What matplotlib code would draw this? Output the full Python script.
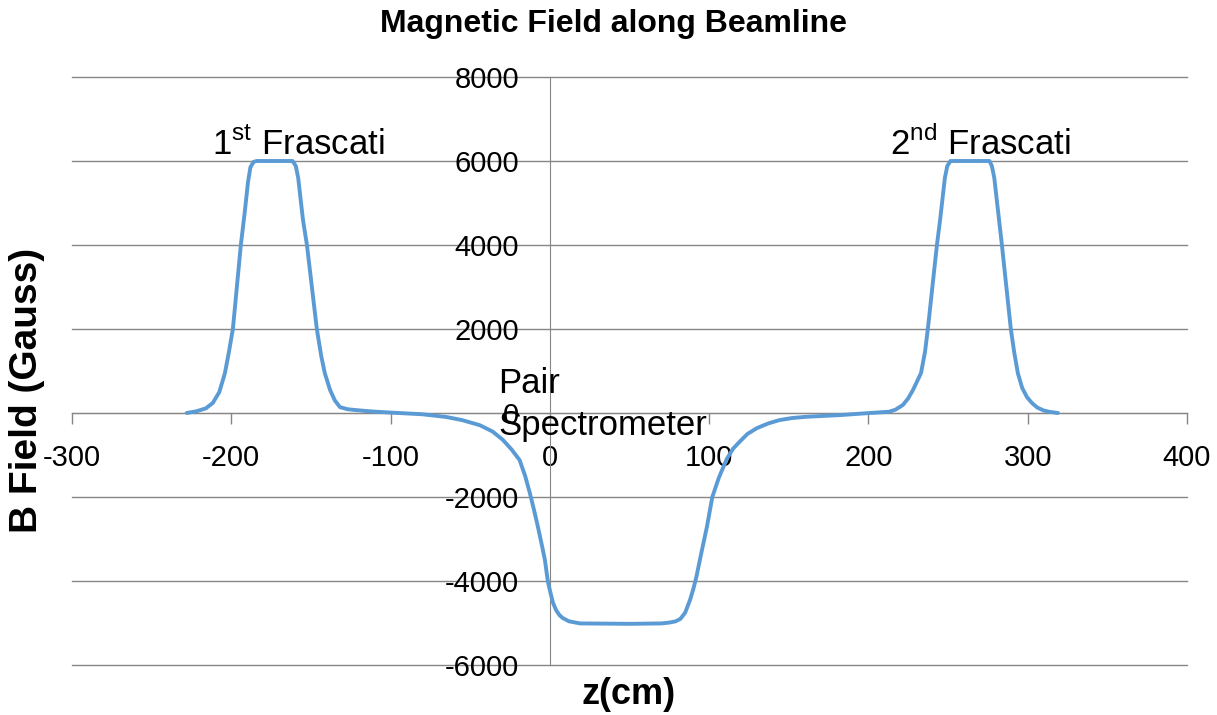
import matplotlib.pyplot as plt

# Data (z in cm, B in Gauss)
z_cm = [-228, -222, -216, -211.6, -207.5, -204, -201.5, -199, -194, -191.5,
        -189.5, -188, -186, -184, -172, -161.5, -159.5, -158, -156.5, -155,
        -152.5, -146.3, -143.5, -141.3, -138, -135, -131.8, -127, -122, -113,
        -100, -80, -65, -55, -44, -36, -29.5, -24, -19, -15.5,
        -12.6, -10, -7.5, -5, -3.1, -1.3, 0.5, 2, 4, 6,
        8, 12, 19, 50, 70, 75, 79, 82, 85, 88,
        90, 92, 95, 98.6, 102, 106, 111, 115, 119, 124,
        130, 137, 144, 152, 161, 182, 199, 213, 217, 221.6,
        225, 228, 230.5, 233, 235.5, 237.3, 243, 245, 246.5, 248,
        249.5, 251.5, 264, 276, 277.5, 279, 280.5, 282, 283.8, 289.4,
        291.5, 293.8, 296.5, 299.5, 302.6, 306, 310, 314, 319]
b_gauss = [0, 40, 110, 240, 500, 950, 1450, 2000, 4000, 4800,
           5500, 5850, 5980, 6000, 6000, 6000, 5880, 5600, 5100, 4600,
           4000, 2000, 1350, 950, 550, 300, 140, 90, 70, 40,
           10, -30, -95, -170, -290, -440, -640, -870, -1120, -1500,
           -1900, -2300, -2710, -3150, -3500, -4000, -4300, -4520, -4700, -4810,
           -4880, -4960, -5010, -5020, -5010, -4990, -4960, -4900, -4750, -4450,
           -4200, -3900, -3350, -2710, -2000, -1550, -1100, -850, -690, -500,
           -360, -250, -170, -120, -90, -50, -5, 30, 80, 190,
           350, 550, 750, 950, 1450, 2000, 4000, 4600, 5100, 5600,
           5880, 6000, 6000, 6000, 5880, 5600, 5100, 4600, 4000, 2000,
           1450, 950, 600, 380, 240, 130, 60, 25, 0]

x_ticks = [-300, -200, -100, 0, 100, 200, 300, 400]
y_ticks = [-6000, -4000, -2000, 0, 2000, 4000, 6000, 8000]

plt.rcParams['font.family'] = ['Liberation Sans', 'DejaVu Sans']
plt.rcParams['mathtext.fontset'] = 'custom'
plt.rcParams['mathtext.rm'] = 'Liberation Sans'
plt.rcParams['axes.unicode_minus'] = False

fig = plt.figure(figsize=(12.17, 7.15), dpi=100)
ax = fig.add_axes([72 / 1217, 1 - 665 / 715, 1115 / 1217, 588 / 715])

grid_col = '#868686'
ax.plot(z_cm, b_gauss, color='#5B9BD5', lw=2.8, zorder=3,
        solid_joinstyle='round', solid_capstyle='round')

ax.set_xlim(-300, 400)
ax.set_ylim(-6000, 8000)
ax.set_xticks(x_ticks)
ax.set_yticks(y_ticks)

# horizontal gridlines (drawn unclipped so the edge ones stay full width)
for yv in y_ticks:
    ax.axhline(yv, color=grid_col, lw=1.0, zorder=1, clip_on=False)

for s in ['top', 'right']:
    ax.spines[s].set_visible(False)
ax.spines['left'].set_position(('data', 0))
ax.spines['bottom'].set_position(('data', 0))
ax.spines['left'].set_color(grid_col)
ax.spines['bottom'].set_color(grid_col)

ax.tick_params(axis='x', length=8, width=1, color=grid_col, labelsize=21, pad=14)
ax.tick_params(axis='y', length=0, labelsize=21, pad=22)

# annotations
ax.text(-212, 6140, '1$^{\\rm st}$ Frascati', fontsize=25, va='baseline', ha='left')
ax.text(213.4, 6140, '2$^{\\rm nd}$ Frascati', fontsize=25, va='baseline', ha='left')
ax.text(-32.6, 476, 'Pair', fontsize=25, va='baseline', ha='left')
ax.text(-32.6, -524, 'Spectrometer', fontsize=25, va='baseline', ha='left')

fig.text(613 / 1217, 1 - 24 / 715, 'Magnetic Field along Beamline',
         fontsize=23, fontweight='bold', ha='center', va='center')
fig.text(629 / 1217, 1 - 695 / 715, 'z(cm)',
         fontsize=26, fontweight='bold', ha='center', va='center')
fig.text(27 / 1217, 1 - 390 / 715, 'B Field (Gauss)', rotation=90,
         fontsize=28, fontweight='bold', ha='center', va='center')

fig.savefig('out.png', dpi=100)
